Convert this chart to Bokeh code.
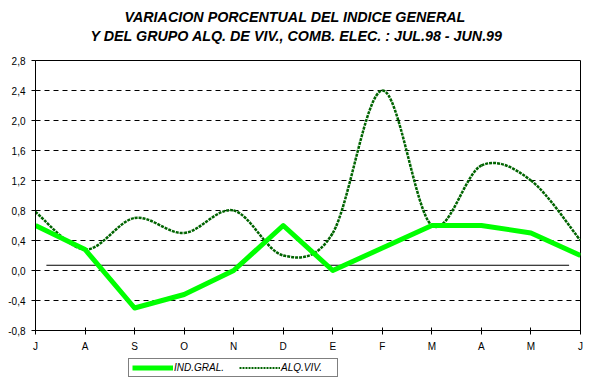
from bokeh.plotting import figure
from bokeh.layouts import column
from bokeh.models import (Range1d, FixedTicker, CustomJSTickFormatter, Title,
                          Legend, LegendItem, ColumnDataSource)
from bokeh.embed import file_html
from bokeh.resources import INLINE

# ---- data ----
months = ["J", "A", "S", "O", "N", "D", "E", "F", "M", "A", "M", "J"]
ind_gral = [0.6, 0.28, -0.5, -0.32, 0.0, 0.6, 0.0, 0.3, 0.6, 0.6, 0.5, 0.2]
alq_viv = [0.78, 0.28, 0.7, 0.5, 0.8, 0.2, 0.5, 2.4, 0.6, 1.4, 1.2, 0.4]
y_ticks = [-0.8, -0.4, 0.0, 0.4, 0.8, 1.2, 1.6, 2.0, 2.4, 2.8]
ref_line_value = 0.07
ref_line_start = 0.22
ref_line_end = 10.77
title_lines = ["VARIACION PORCENTUAL DEL INDICE GENERAL",
               "Y DEL GRUPO ALQ. DE VIV., COMB.  ELEC. : JUL.98 - JUN.99"]
series_names = ["IND.GRAL.", "ALQ.VIV."]

xs = list(range(len(months)))

FONT = "Liberation Sans"
IND_COLOR = "#00ff00"
ALQ_COLOR = "#006400"

p = figure(width=592, height=356,
           output_backend="svg", toolbar_location=None,
           x_range=Range1d(0, len(months) - 1), y_range=Range1d(-0.8, 2.8),
           min_border_left=35, min_border_right=12, min_border_top=60,
           min_border_bottom=26)
p.background_fill_color = "white"
p.border_fill_color = "white"
p.outline_line_color = "black"
p.outline_line_width = 1
p.outline_line_alpha = 1.0

# titles (added nearest-first); a blank spacer keeps a gap above the plot
p.add_layout(Title(text=" ", standoff=5, text_font=FONT, text_font_size="8px"), "above")
p.add_layout(Title(text=title_lines[1], align="left", offset=55, standoff=2,
                   text_font=FONT, text_font_size="14.3px",
                   text_font_style="bold italic", text_color="black"), "above")
p.add_layout(Title(text=title_lines[0], align="left", offset=89, standoff=0,
                   text_font=FONT, text_font_size="14.3px",
                   text_font_style="bold italic", text_color="black"), "above")

# axes
p.xaxis.ticker = FixedTicker(ticks=xs)
p.xaxis.formatter = CustomJSTickFormatter(args=dict(labels=months),
                                          code="return labels[Math.round(tick)];")
p.yaxis.ticker = FixedTicker(ticks=y_ticks)
p.yaxis.formatter = CustomJSTickFormatter(code="return tick.toFixed(1).replace('.', ',');")
for ax in (p.xaxis[0], p.yaxis[0]):
    ax.axis_line_color = "black"
    ax.axis_line_width = 1
    ax.major_tick_line_color = "black"
    ax.minor_tick_line_color = None
    ax.major_label_text_font = FONT
    ax.major_label_text_font_size = "10px"
    ax.major_label_text_color = "black"
p.xaxis.major_tick_in = 3
p.xaxis.major_tick_out = 4
p.xaxis.major_label_standoff = 6
p.yaxis.major_tick_in = 0
p.yaxis.major_tick_out = 4
p.yaxis.major_label_standoff = 6

p.xgrid.visible = False
p.ygrid.ticker = FixedTicker(ticks=y_ticks[1:-1])
p.ygrid.grid_line_color = "black"
p.ygrid.grid_line_dash = "5 4"
p.ygrid.grid_line_width = 1

# reference horizontal line
p.segment(x0=[ref_line_start], y0=[ref_line_value], x1=[ref_line_end], y1=[ref_line_value],
          line_color="black", line_width=1)

# smoothed ALQ.VIV. curve via Bezier segments (Catmull-Rom control points)
n = len(alq_viv)
def pt(i):
    i = max(0, min(n - 1, i))
    return xs[i], alq_viv[i]
x0, y0, x1, y1, cx0, cy0, cx1, cy1 = [], [], [], [], [], [], [], []
for i in range(n - 1):
    pxm, pym = pt(i - 1)
    px0, py0 = pt(i)
    px1, py1 = pt(i + 1)
    px2, py2 = pt(i + 2)
    x0.append(px0); y0.append(py0); x1.append(px1); y1.append(py1)
    cx0.append(px0 + (px1 - pxm) / 6.0); cy0.append(py0 + (py1 - pym) / 6.0)
    cx1.append(px1 - (px2 - px0) / 6.0); cy1.append(py1 - (py2 - py0) / 6.0)
bez_src = ColumnDataSource(dict(x0=x0, y0=y0, x1=x1, y1=y1, cx0=cx0, cy0=cy0, cx1=cx1, cy1=cy1))
p.bezier(x0="x0", y0="y0", x1="x1", y1="y1", cx0="cx0", cy0="cy0", cx1="cx1", cy1="cy1",
         source=bez_src, line_color=ALQ_COLOR, line_width=2.5, line_dash="3 1")

p.line(x=xs, y=ind_gral, line_color=IND_COLOR, line_width=5, line_join="round")

# ---- legend strip below the chart ----
lg = figure(width=592, height=24, output_backend="svg", toolbar_location=None,
            x_range=Range1d(0, 1), y_range=Range1d(0, 1),
            min_border_left=0, min_border_right=0, min_border_top=0, min_border_bottom=0)
lg.axis.visible = False
lg.grid.visible = False
lg.outline_line_color = None
lg.background_fill_color = "white"
lg.border_fill_color = "white"
# single-point lines: nothing drawn in the strip, only their legend swatches
ind_leg = lg.line(x=[xs[0]], y=[ind_gral[0]], line_color=IND_COLOR, line_width=5)
alq_leg = lg.line(x=[xs[0]], y=[alq_viv[0]], line_color=ALQ_COLOR, line_width=2, line_dash="2 1")
legend = Legend(items=[LegendItem(label=series_names[0], renderers=[ind_leg]),
                       LegendItem(label=series_names[1], renderers=[alq_leg])],
                location=(93, 3), orientation="horizontal",
                border_line_color="black", border_line_width=1,
                background_fill_color="white", background_fill_alpha=1,
                padding=3, spacing=12, margin=0, glyph_width=41, glyph_height=11,
                label_standoff=1, label_height=11, label_width=53,
                label_text_font=FONT, label_text_font_size="10px",
                label_text_font_style="italic", label_text_color="black")
lg.add_layout(legend)

open("out.html", "w").write(file_html(column(p, lg, spacing=0), INLINE))
